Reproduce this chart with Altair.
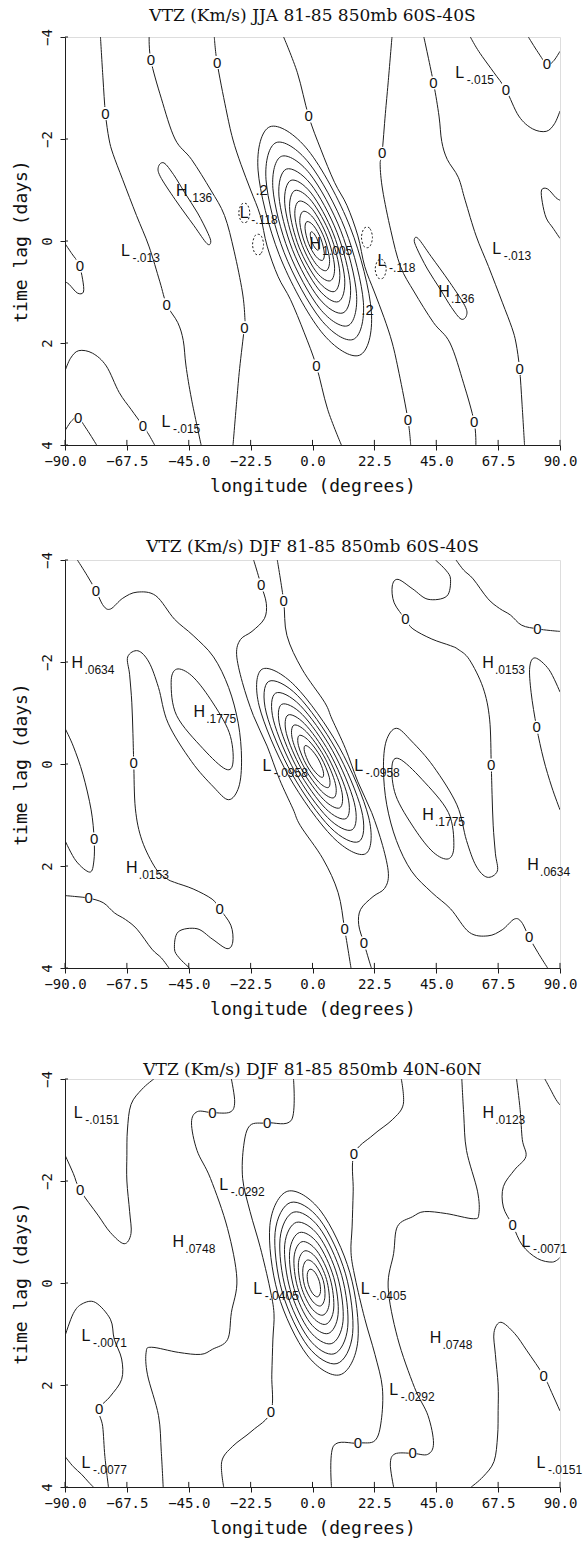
import altair as alt
import pandas as pd

XTICKS = [-90.0, -67.5, -45.0, -22.5, 0.0, 22.5, 45.0, 67.5, 90.0]
YTICKS = [-4, -2, 0, 2, 4]

# ---------------- Panel 1 : JJA 60S-40S ----------------
P1_TITLE = "VTZ (Km/s) JJA 81-85 850mb 60S-40S"
P1_A = [(-77.1, -4.0), (-76.2, -3.2), (-75.3, -2.5), (-74.0, -2.0), (-72.5, -1.7), (-69.0, -1.2), (-64.0, -0.5), (-59.5, 0.1), (-55.5, 0.8), (-53.0, 1.25), (-49.0, 1.6), (-47.0, 1.95), (-46.0, 2.45), (-44.0, 3.1), (-40.5, 4.0)]
P1_G = [(77.1, 4.0), (76.2, 3.2), (75.3, 2.5), (74.0, 2.0), (72.5, 1.7), (69.0, 1.2), (64.0, 0.5), (59.5, -0.1), (55.5, -0.8), (53.0, -1.25), (49.0, -1.6), (47.0, -1.95), (46.0, -2.45), (44.0, -3.1), (40.5, -4.0)]
P1_C = [(-59.4, -4.0), (-58.8, -3.55), (-55.0, -2.8), (-50.0, -2.0), (-44.0, -1.6), (-37.0, -1.0), (-32.0, -0.5), (-28.5, 0.2), (-25.5, 1.0), (-24.6, 1.5), (-24.8, 1.7), (-26.5, 2.5), (-27.5, 3.1), (-28.9, 4.0)]
P1_F = [(59.4, 4.0), (58.8, 3.55), (55.0, 2.8), (50.0, 2.0), (44.0, 1.6), (37.0, 1.0), (32.0, 0.5), (28.5, -0.2), (25.5, -1.0), (24.6, -1.5), (25.3, -1.72), (26.5, -2.5), (27.5, -3.1), (28.9, -4.0)]
P1_D = [(-35.7, -4.0), (-34.7, -3.5), (-31.5, -2.6), (-29.0, -2.0), (-26.0, -1.5), (-22.5, -1.0), (-19.0, -0.5), (-16.5, 0.1), (-12.5, 0.7), (-8.0, 1.15), (-3.0, 1.8), (1.4, 2.45), (5.5, 3.3), (10.5, 4.0)]
P1_E = [(35.7, 4.0), (34.7, 3.5), (31.5, 2.6), (29.0, 2.0), (26.0, 1.5), (22.5, 1.0), (19.0, 0.5), (16.5, -0.1), (12.5, -0.7), (8.0, -1.15), (3.0, -1.8), (-1.4, -2.45), (-5.5, -3.3), (-10.5, -4.0)]
P1_ARC_BL = [(-90.0, 2.55), (-88.0, 2.3), (-85.0, 2.15), (-80.0, 2.2), (-75.0, 2.45), (-70.3, 2.97), (-66.0, 3.3), (-61.7, 3.62), (-59.5, 3.8), (-57.4, 4.0)]
P1_ARC_TR = [(90.0, -2.55), (88.0, -2.3), (85.0, -2.15), (80.0, -2.2), (75.0, -2.45), (70.3, -2.97), (66.0, -3.3), (61.7, -3.62), (59.5, -3.8), (57.4, -4.0)]
P1_CORNER_BL = [(-90.0, 3.72), (-87.5, 3.52), (-85.2, 3.47), (-82.0, 3.7), (-78.5, 4.0)]
P1_CORNER_TR = [(90.0, -3.72), (87.5, -3.52), (85.2, -3.47), (82.0, -3.7), (78.5, -4.0)]
P1_EDGE_L = [(-90.0, 0.05), (-87.5, 0.25), (-85.0, 0.45), (-83.6, 0.75), (-83.3, 1.0), (-85.5, 1.02), (-88.5, 0.85), (-90.0, 0.8)]
P1_EDGE_R = [(90.0, -0.05), (87.5, -0.25), (85.0, -0.45), (83.6, -0.75), (83.3, -1.0), (85.5, -1.02), (88.5, -0.85), (90.0, -0.8)]
P1_HLOOP_L = [(-54.0, -1.53), (-50.5, -1.3), (-46.5, -0.95), (-41.8, -0.55), (-38.0, -0.15), (-37.0, 0.02), (-38.4, 0.05), (-43.1, -0.3), (-49.9, -0.81), (-55.4, -1.27), (-56.0, -1.46)]
P1_HLOOP_R = [(54.0, 1.53), (50.5, 1.3), (46.5, 0.95), (41.8, 0.55), (38.0, 0.15), (37.0, -0.02), (38.4, -0.05), (43.1, 0.3), (49.9, 0.81), (55.4, 1.27), (56.0, 1.46)]
P1_C01 = [(17.1, 2.24), (21.4, 1.39), (13.7, -0.27), (-1.6, -1.78), (-15.5, -2.24), (-19.8, -1.39), (-12.1, 0.27), (3.2, 1.78)]
P1_C02 = [(14.8, 1.93), (18.5, 1.2), (11.9, -0.23), (-1.3, -1.53), (-13.2, -1.93), (-16.9, -1.2), (-10.3, 0.23), (2.9, 1.53)]
P1_C03 = [(12.9, 1.66), (16.0, 1.03), (10.3, -0.2), (-1.0, -1.32), (-11.3, -1.66), (-14.4, -1.03), (-8.7, 0.2), (2.6, 1.32)]
P1_C04 = [(11.1, 1.41), (13.8, 0.88), (8.9, -0.17), (-0.7, -1.12), (-9.5, -1.41), (-12.2, -0.88), (-7.3, 0.17), (2.3, 1.12)]
P1_C05 = [(9.4, 1.19), (11.7, 0.74), (7.6, -0.14), (-0.5, -0.94), (-7.8, -1.19), (-10.1, -0.74), (-6.0, 0.14), (2.1, 0.94)]
P1_C06 = [(8.0, 0.99), (9.9, 0.61), (6.5, -0.12), (-0.3, -0.78), (-6.4, -0.99), (-8.3, -0.61), (-4.9, 0.12), (1.9, 0.78)]
P1_C07 = [(6.5, 0.78), (8.0, 0.49), (5.3, -0.09), (0.0, -0.62), (-4.9, -0.78), (-6.4, -0.49), (-3.7, 0.09), (1.6, 0.62)]
P1_C08 = [(5.0, 0.58), (6.2, 0.36), (4.2, -0.07), (0.2, -0.46), (-3.4, -0.58), (-4.6, -0.36), (-2.6, 0.07), (1.4, 0.46)]
P1_C09 = [(3.6, 0.38), (4.3, 0.24), (3.0, -0.05), (0.4, -0.3), (-2.0, -0.38), (-2.7, -0.24), (-1.4, 0.05), (1.2, 0.3)]
P1_C10 = [(2.1, 0.18), (2.4, 0.11), (1.8, -0.02), (0.6, -0.14), (-0.5, -0.18), (-0.8, -0.11), (-0.2, 0.02), (1.0, 0.14)]
P1_N1 = [(-22.8, -0.55), (-23.8, -0.38), (-25.8, -0.38), (-26.8, -0.55), (-25.8, -0.72), (-23.8, -0.72)]
P1_N2 = [(-17.8, 0.07), (-18.8, 0.25), (-20.8, 0.25), (-21.8, 0.07), (-20.8, -0.11), (-18.8, -0.11)]
P1_N3 = [(21.8, -0.07), (20.8, -0.25), (18.8, -0.25), (17.8, -0.07), (18.8, 0.11), (20.8, 0.11)]
P1_N4 = [(26.8, 0.55), (25.8, 0.72), (23.8, 0.72), (22.8, 0.55), (23.8, 0.38), (25.8, 0.38)]
P1_OPEN = [P1_A, P1_G, P1_C, P1_F, P1_D, P1_E, P1_ARC_BL, P1_ARC_TR, P1_CORNER_BL, P1_CORNER_TR, P1_EDGE_L, P1_EDGE_R]
P1_LOOPS = [P1_HLOOP_L, P1_HLOOP_R, P1_C01, P1_C02, P1_C03, P1_C04, P1_C05, P1_C06, P1_C07, P1_C08, P1_C09, P1_C10]
P1_DASHED = [P1_N1, P1_N2, P1_N3, P1_N4]
P1_ZERO_LON = [-58.8, -34.7, -75.3, -1.4, 44.0, 85.2, 70.3, 25.3, -84.6, -53.0, -24.8, 1.4, 75.3, -85.2, -61.7, 34.7, 58.8]
P1_ZERO_LAG = [-3.55, -3.5, -2.5, -2.45, -3.1, -3.47, -2.97, -1.72, 0.49, 1.25, 1.7, 2.45, 2.5, 3.47, 3.62, 3.5, 3.55]
P1_HL_LETTER = ["L", "H", "L", "L", "H", "L", "L", "H", "L"]
P1_HL_VALUE = ["-.015", ".136", "-.013", "-.118", "1.005", "-.118", "-.013", ".136", "-.015"]
P1_HL_LON = [53.5, -47.5, -68.0, -24.8, 1.0, 25.3, 67.0, 47.8, -53.3]
P1_HL_LAG = [-3.3, -0.98, 0.2, -0.55, 0.05, 0.4, 0.15, 1.0, 3.55]
P1_TAG_TEXT = [".2", ".2"]
P1_TAG_LON = [-18.5, 20.0]
P1_TAG_LAG = [-1.0, 1.35]

# ---------------- Panel 2 : DJF 60S-40S ----------------
P2_TITLE = "VTZ (Km/s) DJF 81-85 850mb 60S-40S"
P2_T1 = [(-85.5, -4.0), (-82.0, -3.7), (-78.8, -3.4), (-76.0, -3.1), (-73.4, -3.04), (-69.0, -3.25), (-63.8, -3.37), (-57.0, -3.3), (-50.2, -2.84), (-43.4, -2.52), (-36.0, -2.1), (-30.5, -1.5), (-27.0, -0.8), (-25.8, -0.1), (-26.8, 0.45), (-30.5, 0.7), (-36.0, 0.45), (-44.0, -0.05), (-52.5, -0.8), (-56.0, -1.5), (-59.5, -2.0), (-63.5, -2.22), (-67.2, -2.1), (-66.5, -1.75), (-65.7, -1.2), (-65.3, -0.6), (-65.0, -0.02), (-64.4, 0.88), (-62.0, 1.5), (-57.0, 2.05), (-52.9, 2.25), (-50.2, 2.32), (-43.4, 2.45), (-36.5, 2.65), (-33.8, 2.84), (-29.7, 3.16), (-29.0, 3.49), (-31.1, 3.62), (-36.5, 3.43), (-42.0, 3.23), (-48.8, 3.29), (-50.2, 3.62), (-48.5, 3.8), (-44.7, 4.0)]
P2_B1 = [(85.5, 4.0), (82.0, 3.7), (78.8, 3.4), (76.0, 3.1), (73.4, 3.04), (69.0, 3.25), (63.8, 3.37), (57.0, 3.3), (50.2, 2.84), (43.4, 2.52), (36.0, 2.1), (30.5, 1.5), (27.0, 0.8), (25.8, 0.1), (26.8, -0.45), (30.5, -0.7), (36.0, -0.45), (44.0, 0.05), (52.5, 0.8), (56.0, 1.5), (59.5, 2.0), (63.5, 2.22), (67.2, 2.1), (66.5, 1.75), (65.7, 1.2), (65.3, 0.6), (65.0, 0.02), (64.4, -0.88), (62.0, -1.5), (57.0, -2.05), (52.9, -2.25), (50.2, -2.32), (43.4, -2.45), (36.5, -2.65), (33.8, -2.84), (29.7, -3.16), (29.0, -3.49), (31.1, -3.62), (36.5, -3.43), (42.0, -3.23), (48.8, -3.29), (50.2, -3.62), (48.5, -3.8), (44.7, -4.0)]
P2_T2B3 = [(-21.4, -4.0), (-20.0, -3.75), (-18.7, -3.51), (-16.8, -3.15), (-17.5, -2.85), (-22.0, -2.6), (-26.2, -2.44), (-27.6, -2.15), (-25.5, -1.6), (-21.5, -0.95), (-16.5, -0.35), (-12.0, 0.3), (-7.1, 0.88), (-4.4, 1.21), (3.8, 1.86), (9.3, 2.52), (11.7, 3.24), (14.0, 4.0)]
P2_T3B2 = [(21.4, 4.0), (20.0, 3.75), (18.7, 3.51), (16.8, 3.15), (17.5, 2.85), (22.0, 2.6), (26.2, 2.44), (27.6, 2.15), (25.5, 1.6), (21.5, 0.95), (16.5, 0.35), (12.0, -0.3), (7.1, -0.88), (4.4, -1.21), (-3.8, -1.86), (-9.3, -2.52), (-10.5, -3.2), (-12.8, -4.0)]
P2_T5 = [(52.2, -4.0), (55.0, -3.8), (58.4, -3.63), (63.8, -3.24), (68.0, -3.05), (72.0, -2.92), (76.1, -2.72), (81.8, -2.65), (86.0, -2.62), (90.0, -2.6)]
P2_B5 = [(-52.2, 4.0), (-55.0, 3.8), (-58.4, 3.63), (-63.8, 3.24), (-68.0, 3.05), (-72.0, 2.92), (-76.1, 2.72), (-81.4, 2.63), (-86.0, 2.6), (-90.0, 2.58)]
P2_LOBE_R = [(90.0, -1.41), (86.0, -1.85), (81.0, -2.08), (79.0, -1.9), (79.5, -1.4), (81.5, -0.72), (84.0, -0.1), (87.0, 0.45), (90.0, 0.9)]
P2_LOBE_L = [(-90.0, 1.5), (-86.0, 1.9), (-81.0, 2.12), (-79.5, 1.9), (-79.4, 1.47), (-80.5, 0.9), (-83.5, 0.2), (-87.0, -0.35), (-90.0, -0.7)]
P2_HLOOP_L = [(-49.4, -1.86), (-51.4, -1.6), (-49.4, -0.95), (-39.8, -0.3), (-31.6, 0.1), (-28.9, -0.04), (-30.3, -0.62), (-37.1, -1.27), (-43.9, -1.73)]
P2_HLOOP_R = [(49.4, 1.86), (51.4, 1.6), (49.4, 0.95), (39.8, 0.3), (31.6, -0.1), (28.9, 0.04), (30.3, 0.62), (37.1, 1.27), (43.9, 1.73)]
P2_C01 = [(19.3, 1.76), (20.4, 1.04), (9.7, -0.33), (-6.3, -1.53), (-18.3, -1.86), (-19.4, -1.14), (-8.7, 0.23), (7.3, 1.43)]
P2_C02 = [(16.9, 1.52), (17.8, 0.9), (8.5, -0.29), (-5.4, -1.34), (-15.9, -1.62), (-16.8, -1.0), (-7.5, 0.19), (6.4, 1.24)]
P2_C03 = [(14.4, 1.29), (15.2, 0.76), (7.3, -0.26), (-4.5, -1.15), (-13.4, -1.39), (-14.2, -0.86), (-6.3, 0.16), (5.5, 1.05)]
P2_C04 = [(12.2, 1.07), (12.8, 0.63), (6.2, -0.22), (-3.7, -0.97), (-11.2, -1.17), (-11.8, -0.73), (-5.2, 0.12), (4.7, 0.87)]
P2_C05 = [(9.9, 0.86), (10.5, 0.5), (5.1, -0.19), (-2.9, -0.79), (-8.9, -0.96), (-9.5, -0.6), (-4.1, 0.09), (3.9, 0.69)]
P2_C06 = [(7.8, 0.66), (8.3, 0.38), (4.1, -0.16), (-2.2, -0.63), (-6.8, -0.76), (-7.3, -0.48), (-3.1, 0.06), (3.2, 0.53)]
P2_C07 = [(5.8, 0.46), (6.1, 0.26), (3.1, -0.13), (-1.4, -0.46), (-4.8, -0.56), (-5.1, -0.36), (-2.1, 0.03), (2.4, 0.36)]
P2_C08 = [(3.7, 0.26), (3.9, 0.14), (2.1, -0.1), (-0.7, -0.3), (-2.7, -0.36), (-2.9, -0.24), (-1.1, 0.0), (1.7, 0.2)]
P2_OPEN = [P2_T1, P2_B1, P2_T2B3, P2_T3B2, P2_T5, P2_B5, P2_LOBE_R, P2_LOBE_L]
P2_LOOPS = [P2_HLOOP_L, P2_HLOOP_R, P2_C01, P2_C02, P2_C03, P2_C04, P2_C05, P2_C06, P2_C07, P2_C08]
P2_DASHED = []
P2_ZERO_LON = [-78.8, -18.7, -10.5, 33.8, 81.8, -65.0, 65.0, 81.5, -79.4, -81.4, -33.8, 11.7, 18.7, 78.8]
P2_ZERO_LAG = [-3.4, -3.51, -3.2, -2.84, -2.65, -0.02, 0.02, -0.72, 1.47, 2.63, 2.84, 3.24, 3.51, 3.4]
P2_HL_LETTER = ["H", "H", "H", "L", "L", "H", "H", "H"]
P2_HL_VALUE = [".0634", ".0153", ".1775", "-.0958", "-.0958", ".1775", ".0153", ".0634"]
P2_HL_LON = [-85.5, 63.8, -41.2, -16.6, 16.8, 42.0, -65.7, 80.2]
P2_HL_LAG = [-1.99, -1.99, -1.01, 0.03, 0.03, 1.0, 2.03, 1.99]

# ---------------- Panel 3 : DJF 40N-60N ----------------
P3_TITLE = "VTZ (Km/s) DJF 81-85 850mb 40N-60N"
P3_HOOK_L = [(-90.0, -2.51), (-87.0, -2.15), (-84.5, -1.82), (-78.0, -1.33), (-73.5, -0.99), (-68.5, -0.77), (-66.0, -0.97), (-66.5, -1.4), (-67.5, -2.0), (-67.5, -2.5), (-67.3, -3.0), (-66.0, -3.5), (-62.0, -3.8), (-57.7, -4.0)]
P3_HOOK_R = [(90.0, 2.51), (87.0, 2.15), (84.1, 1.82), (78.0, 1.33), (73.5, 0.99), (68.5, 0.77), (66.0, 0.97), (66.5, 1.4), (67.5, 2.0), (67.5, 2.5), (67.3, 3.0), (66.0, 3.5), (62.0, 3.8), (57.7, 4.0)]
P3_FOLD_L = [(-90.0, 1.04), (-87.0, 0.6), (-83.8, 0.41), (-79.0, 0.38), (-73.5, 0.71), (-72.1, 1.1), (-69.4, 1.49), (-69.4, 1.89), (-73.5, 2.22), (-77.6, 2.48), (-76.3, 2.81), (-75.5, 3.4), (-74.2, 4.0)]
P3_FOLD_R = [(90.0, -0.5), (87.2, -0.41), (81.8, -0.48), (76.3, -0.74), (72.8, -1.13), (69.4, -1.49), (69.4, -1.89), (73.5, -2.22), (77.6, -2.48), (76.3, -2.81), (75.5, -3.4), (74.2, -4.0)]
P3_CORNER_BL = [(-90.0, 3.4), (-87.0, 3.6), (-84.0, 3.75), (-81.5, 3.9), (-79.7, 4.0)]
P3_CORNER_TR = [(84.5, -4.0), (86.5, -3.8), (88.5, -3.6), (90.0, -3.49)]
P3_LA = [(-29.5, -4.0), (-28.3, -3.55), (-30.0, -3.35), (-36.4, -3.34), (-41.9, -3.36), (-44.0, -3.14), (-42.0, -2.6), (-37.1, -2.05), (-30.9, -1.07), (-27.5, -0.08), (-29.5, 0.58), (-30.9, 1.11), (-36.4, 1.3), (-40.7, 1.4), (-48.8, 1.36), (-58.5, 1.26), (-60.5, 1.36), (-60.0, 1.8), (-56.0, 2.6), (-55.0, 3.3), (-54.3, 4.0)]
P3_LA2 = [(29.5, 4.0), (28.3, 3.55), (30.0, 3.35), (36.4, 3.34), (41.9, 3.36), (44.0, 3.14), (42.0, 2.6), (37.1, 2.05), (30.9, 1.07), (27.5, 0.08), (29.5, -0.58), (30.9, -1.11), (36.4, -1.3), (40.7, -1.4), (48.8, -1.36), (58.5, -1.26), (60.5, -1.36), (60.0, -1.8), (56.0, -2.6), (55.0, -3.3), (54.3, -4.0)]
P3_LB = [(-6.9, -4.0), (-7.6, -3.2), (-16.5, -3.14), (-22.7, -3.09), (-25.0, -2.7), (-25.4, -2.05), (-22.7, -1.4), (-19.0, -0.7), (-15.5, 0.1), (-14.0, 0.6), (-14.4, 1.1), (-14.8, 1.8), (-15.1, 2.52), (-22.0, 2.9), (-29.0, 3.2), (-33.0, 3.5), (-32.3, 4.0)]
P3_LB2 = [(6.9, 4.0), (7.6, 3.2), (16.5, 3.14), (22.7, 3.09), (25.0, 2.7), (25.4, 2.05), (22.7, 1.4), (19.0, 0.7), (15.5, -0.1), (14.0, -0.6), (14.4, -1.1), (14.8, -1.8), (15.1, -2.52), (22.0, -2.9), (29.0, -3.2), (33.0, -3.5), (32.3, -4.0)]
P3_C01 = [(10.0, 1.8), (16.5, 1.13), (13.6, -0.2), (3.0, -1.41), (-9.0, -1.8), (-15.5, -1.13), (-12.6, 0.2), (-2.0, 1.41)]
P3_C02 = [(8.9, 1.58), (14.6, 0.99), (12.0, -0.18), (2.7, -1.24), (-7.9, -1.58), (-13.6, -0.99), (-11.0, 0.18), (-1.7, 1.24)]
P3_C03 = [(7.8, 1.39), (12.8, 0.87), (10.6, -0.15), (2.4, -1.09), (-6.8, -1.39), (-11.8, -0.87), (-9.6, 0.15), (-1.4, 1.09)]
P3_C04 = [(6.8, 1.19), (11.1, 0.75), (9.1, -0.13), (2.2, -0.93), (-5.8, -1.19), (-10.1, -0.75), (-8.1, 0.13), (-1.2, 0.93)]
P3_C05 = [(5.7, 0.99), (9.3, 0.62), (7.7, -0.11), (1.9, -0.78), (-4.7, -0.99), (-8.3, -0.62), (-6.7, 0.11), (-0.9, 0.78)]
P3_C06 = [(4.8, 0.81), (7.7, 0.51), (6.4, -0.09), (1.6, -0.63), (-3.8, -0.81), (-6.7, -0.51), (-5.4, 0.09), (-0.6, 0.63)]
P3_C07 = [(3.8, 0.63), (6.1, 0.4), (5.1, -0.07), (1.4, -0.49), (-2.8, -0.63), (-5.1, -0.4), (-4.1, 0.07), (-0.4, 0.49)]
P3_C08 = [(2.9, 0.45), (4.5, 0.28), (3.9, -0.05), (1.1, -0.35), (-1.9, -0.45), (-3.5, -0.28), (-2.9, 0.05), (-0.1, 0.35)]
P3_C09 = [(1.9, 0.27), (2.9, 0.17), (2.5, -0.03), (0.9, -0.21), (-0.9, -0.27), (-1.9, -0.17), (-1.5, 0.03), (0.1, 0.21)]
P3_OPEN = [P3_HOOK_L, P3_HOOK_R, P3_FOLD_L, P3_FOLD_R, P3_CORNER_BL, P3_CORNER_TR, P3_LA, P3_LA2, P3_LB, P3_LB2]
P3_LOOPS = [P3_C01, P3_C02, P3_C03, P3_C04, P3_C05, P3_C06, P3_C07, P3_C08, P3_C09]
P3_DASHED = []
P3_ZERO_LON = [-36.4, -16.5, 15.1, -84.5, 72.8, -77.6, -15.1, 16.5, 36.4, 84.1]
P3_ZERO_LAG = [-3.34, -3.14, -2.52, -1.82, -1.13, 2.48, 2.52, 3.14, 3.34, 1.82]
P3_HL_LETTER = ["L", "H", "L", "H", "L", "L", "L", "L", "H", "L", "L", "L"]
P3_HL_VALUE = ["-.0151", ".0123", "-.0292", ".0748", "-.0071", "-.0405", "-.0405", "-.0071", ".0748", "-.0292", "-.0077", "-.0151"]
P3_HL_LON = [-85.2, 63.9, -32.3, -48.8, 77.6, -19.9, 19.2, -82.4, 44.7, 29.5, -82.4, 83.1]
P3_HL_LAG = [-3.33, -3.33, -1.92, -0.81, -0.8, 0.12, 0.12, 1.04, 1.07, 2.09, 3.53, 3.53]

# ---------------- drawing ----------------
INK = "#1e1e1e"
MONO = "DejaVu Sans Mono"
SANS = "Liberation Sans"
SERIF = "DejaVu Serif"
W, H = 495, 408
RECT = "M -0.45 -0.75 L 0.45 -0.75 L 0.45 0.75 L -0.45 0.75 Z"


def to_df(lines, tag):
    rows = []
    for i, pts in enumerate(lines):
        for j, (lon, lag) in enumerate(pts):
            rows.append({"cid": f"{tag}{i}", "ord": j, "lon": lon, "lag": lag})
    return pd.DataFrame(rows, columns=["cid", "ord", "lon", "lag"])


def xy():
    x = alt.X("lon:Q", scale=alt.Scale(domain=[-90, 90], nice=False, zero=False),
              axis=alt.Axis(values=XTICKS, format=".1f", title="longitude (degrees)", grid=False,
                            labelFont=MONO, labelFontSize=14, titleFont=MONO, titleFontSize=18,
                            titleFontWeight="normal", tickSize=5, labelPadding=4, titlePadding=9,
                            labelColor="#111", titleColor="#111", tickColor=INK, domainColor=INK,
                            labelFlush=False, labelOverlap=False))
    y = alt.Y("lag:Q", scale=alt.Scale(domain=[-4, 4], reverse=True, nice=False, zero=False),
              axis=alt.Axis(values=YTICKS, format="d", title="time lag (days)", grid=False,
                            labelFont=MONO, labelFontSize=14, titleFont=MONO, titleFontSize=18,
                            titleFontWeight="normal", tickSize=5, labelPadding=6, titlePadding=10,
                            labelAngle=270, labelAlign="center", labelBaseline="bottom",
                            labelColor="#111", titleColor="#111", tickColor=INK, domainColor=INK,
                            labelFlush=False, labelOverlap=False))
    return x, y


def panel(title, open_lines, loops, dashed, zlon, zlag, hl_letter, hl_value, hl_lon, hl_lag,
          tag_text=None, tag_lon=None, tag_lag=None, toff=4):
    x, y = xy()
    layers = [
        alt.Chart(to_df(open_lines, "o")).mark_line(interpolate="cardinal", clip=True, color=INK, strokeWidth=1)
        .encode(x=x, y=y, detail="cid:N", order="ord:Q"),
        alt.Chart(to_df(loops, "c")).mark_line(interpolate="cardinal-closed", clip=True, color=INK, strokeWidth=1)
        .encode(x=x, y=y, detail="cid:N", order="ord:Q"),
    ]
    if dashed:
        layers.append(alt.Chart(to_df(dashed, "d")).mark_line(interpolate="cardinal-closed", clip=True, color=INK,
                                                             strokeWidth=1, strokeDash=[2, 2])
                      .encode(x=x, y=y, detail="cid:N", order="ord:Q"))
    # inner halves of the tick marks (ticks cross the frame in the original)
    xt = pd.DataFrame({"lon": XTICKS, "lag": [4.0] * len(XTICKS), "lag2": [3.9] * len(XTICKS)})
    layers.append(alt.Chart(xt).mark_rule(color=INK, strokeWidth=1).encode(x=x, y=y, y2="lag2:Q"))
    yt = pd.DataFrame({"lag": YTICKS, "lon": [-90.0] * len(YTICKS), "lon2": [-88.9] * len(YTICKS)})
    layers.append(alt.Chart(yt).mark_rule(color=INK, strokeWidth=1).encode(x=x, x2="lon2:Q", y=y))
    zdf = pd.DataFrame({"lon": zlon, "lag": zlag})
    layers.append(alt.Chart(zdf).mark_point(shape=RECT, size=300, filled=True, color="white", opacity=1,
                                            strokeWidth=0).encode(x=x, y=y))
    layers.append(alt.Chart(zdf).mark_text(text="0", font=SANS, fontSize=15, color="#111").encode(x=x, y=y))
    hdf = pd.DataFrame({"letter": hl_letter, "value": hl_value, "lon": hl_lon, "lag": hl_lag})
    layers.append(alt.Chart(hdf).mark_text(font=SANS, fontSize=16, color="#111", align="center", baseline="middle")
                  .encode(x=x, y=y, text="letter:N"))
    layers.append(alt.Chart(hdf).mark_text(font=SANS, fontSize=12, color="#111", align="left", baseline="middle",
                                           dx=7, dy=7).encode(x=x, y=y, text="value:N"))
    if tag_text:
        tdf = pd.DataFrame({"t": tag_text, "lon": tag_lon, "lag": tag_lag})
        layers.append(alt.Chart(tdf).mark_text(font=SANS, fontSize=15, color="#111").encode(x=x, y=y, text="t:N"))
    return alt.layer(*layers).properties(
        width=W, height=H,
        title=alt.TitleParams(title, font=SERIF, fontSize=17, fontWeight="normal", color="#111",
                              anchor="middle", offset=toff))


p1 = panel(P1_TITLE, P1_OPEN, P1_LOOPS, P1_DASHED, P1_ZERO_LON, P1_ZERO_LAG,
           P1_HL_LETTER, P1_HL_VALUE, P1_HL_LON, P1_HL_LAG, P1_TAG_TEXT, P1_TAG_LON, P1_TAG_LAG, toff=4)
p2 = panel(P2_TITLE, P2_OPEN, P2_LOOPS, P2_DASHED, P2_ZERO_LON, P2_ZERO_LAG,
           P2_HL_LETTER, P2_HL_VALUE, P2_HL_LON, P2_HL_LAG, toff=-4)
p3 = panel(P3_TITLE, P3_OPEN, P3_LOOPS, P3_DASHED, P3_ZERO_LON, P3_ZERO_LAG,
           P3_HL_LETTER, P3_HL_VALUE, P3_HL_LON, P3_HL_LAG, toff=-8)

chart = alt.vconcat(p1, p2, p3, spacing=41).properties(
    padding={"left": 11, "top": 6, "right": 0, "bottom": 0}
).configure_view(stroke=INK, strokeWidth=1.2).configure(background="white")

chart.save("out.html", embed_options={"renderer": "svg", "actions": False})
